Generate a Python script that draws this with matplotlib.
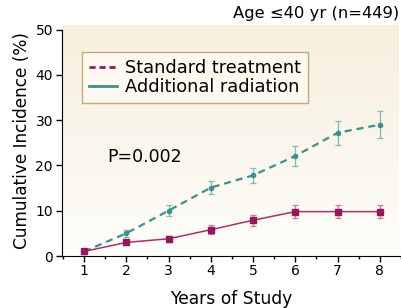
import numpy as np
import matplotlib.pyplot as plt
from matplotlib.lines import Line2D

plt.rcParams['font.family'] = ['DejaVu Sans']

years = [1, 2, 3, 4, 5, 6, 7, 8]
radiation = [1, 5, 10, 15.1, 17.8, 22.1, 27.2, 29.0]
radiation_err = [0.5, 0.8, 1.2, 1.5, 1.7, 2.2, 2.6, 3.0]
standard = [1, 3, 3.8, 5.8, 7.9, 9.8, 9.8, 9.8]
standard_err = [0.5, 0.6, 0.7, 1.0, 1.2, 1.5, 1.5, 1.5]

magenta = '#95185a'
teal = '#3f8f8c'

fig = plt.figure(figsize=(4.01, 3.08), dpi=100)
ax = fig.add_axes([62 / 401, 52 / 308, 1 - 62 / 401, (256 - 25) / 308])

# cream gradient background
grad = np.linspace(0, 1, 256).reshape(-1, 1)
top = np.array([0.965, 0.937, 0.867])
bot = np.array([0.996, 0.992, 0.980])
img = top * (1 - grad[..., None]) + bot * grad[..., None]
ax.imshow(img, extent=[0.48, 8.43, 0, 51], aspect='auto', zorder=0)

ax.errorbar(years, radiation, yerr=radiation_err, color=teal, lw=1.6, ls=(0, (3.2, 2.2)),
            marker='o', ms=3, ecolor='#80b8b4', elinewidth=0.9, capsize=2, capthick=0.9, zorder=3)
ax.errorbar(years, standard, yerr=standard_err, color='#a8306b', lw=1.1, ls='-',
            marker='s', ms=4, mfc=magenta, mec=magenta, ecolor='#c47a9e', elinewidth=0.9,
            capsize=2, capthick=0.9, zorder=3)

ax.set_xlim(0.48, 8.43)
ax.set_ylim(0, 51)
ax.set_yticks([0, 10, 20, 30, 40, 50])
ax.set_xticks(years)
ax.set_xticks(np.arange(0.5, 8.6, 1), minor=True)
ax.tick_params(axis='both', which='major', direction='out', length=4, width=1, labelsize=10)
ax.tick_params(axis='y', pad=2.5)
ax.tick_params(axis='x', pad=1.5)
ax.tick_params(axis='x', which='minor', direction='out', length=2.5, width=1)
ax.spines['top'].set_visible(False)
ax.spines['right'].set_visible(False)
ax.spines['left'].set_bounds(0, 50)

ax.set_xlabel('Years of Study', fontsize=12.3, labelpad=9)
ax.set_ylabel('Cumulative Incidence (%)', fontsize=12.2, labelpad=3)

ax.text(1.55, 21.8, 'P=0.002', fontsize=12.5, va='center', ha='left')
fig.text(0.995, 0.955, 'Age \u226440 yr (n=449)', fontsize=11.8, ha='right', va='center')

handles = [Line2D([], [], color=magenta, lw=2, ls=(0, (2.2, 1.4))),
           Line2D([], [], color=teal, lw=2, ls='-')]
leg = ax.legend(handles, ['Standard treatment', 'Additional radiation'],
                loc='upper left', bbox_to_anchor=(0.059, 0.883), fontsize=12.8,
                frameon=True, fancybox=False, handlelength=1.55, handletextpad=0.45,
                labelspacing=0.05, borderpad=0.4, borderaxespad=0)
leg.get_frame().set_edgecolor('#c8a878')
leg.get_frame().set_facecolor('#fdf9f0')
leg.get_frame().set_alpha(1)
leg.get_frame().set_linewidth(1)

fig.savefig('out.png', dpi=100)
